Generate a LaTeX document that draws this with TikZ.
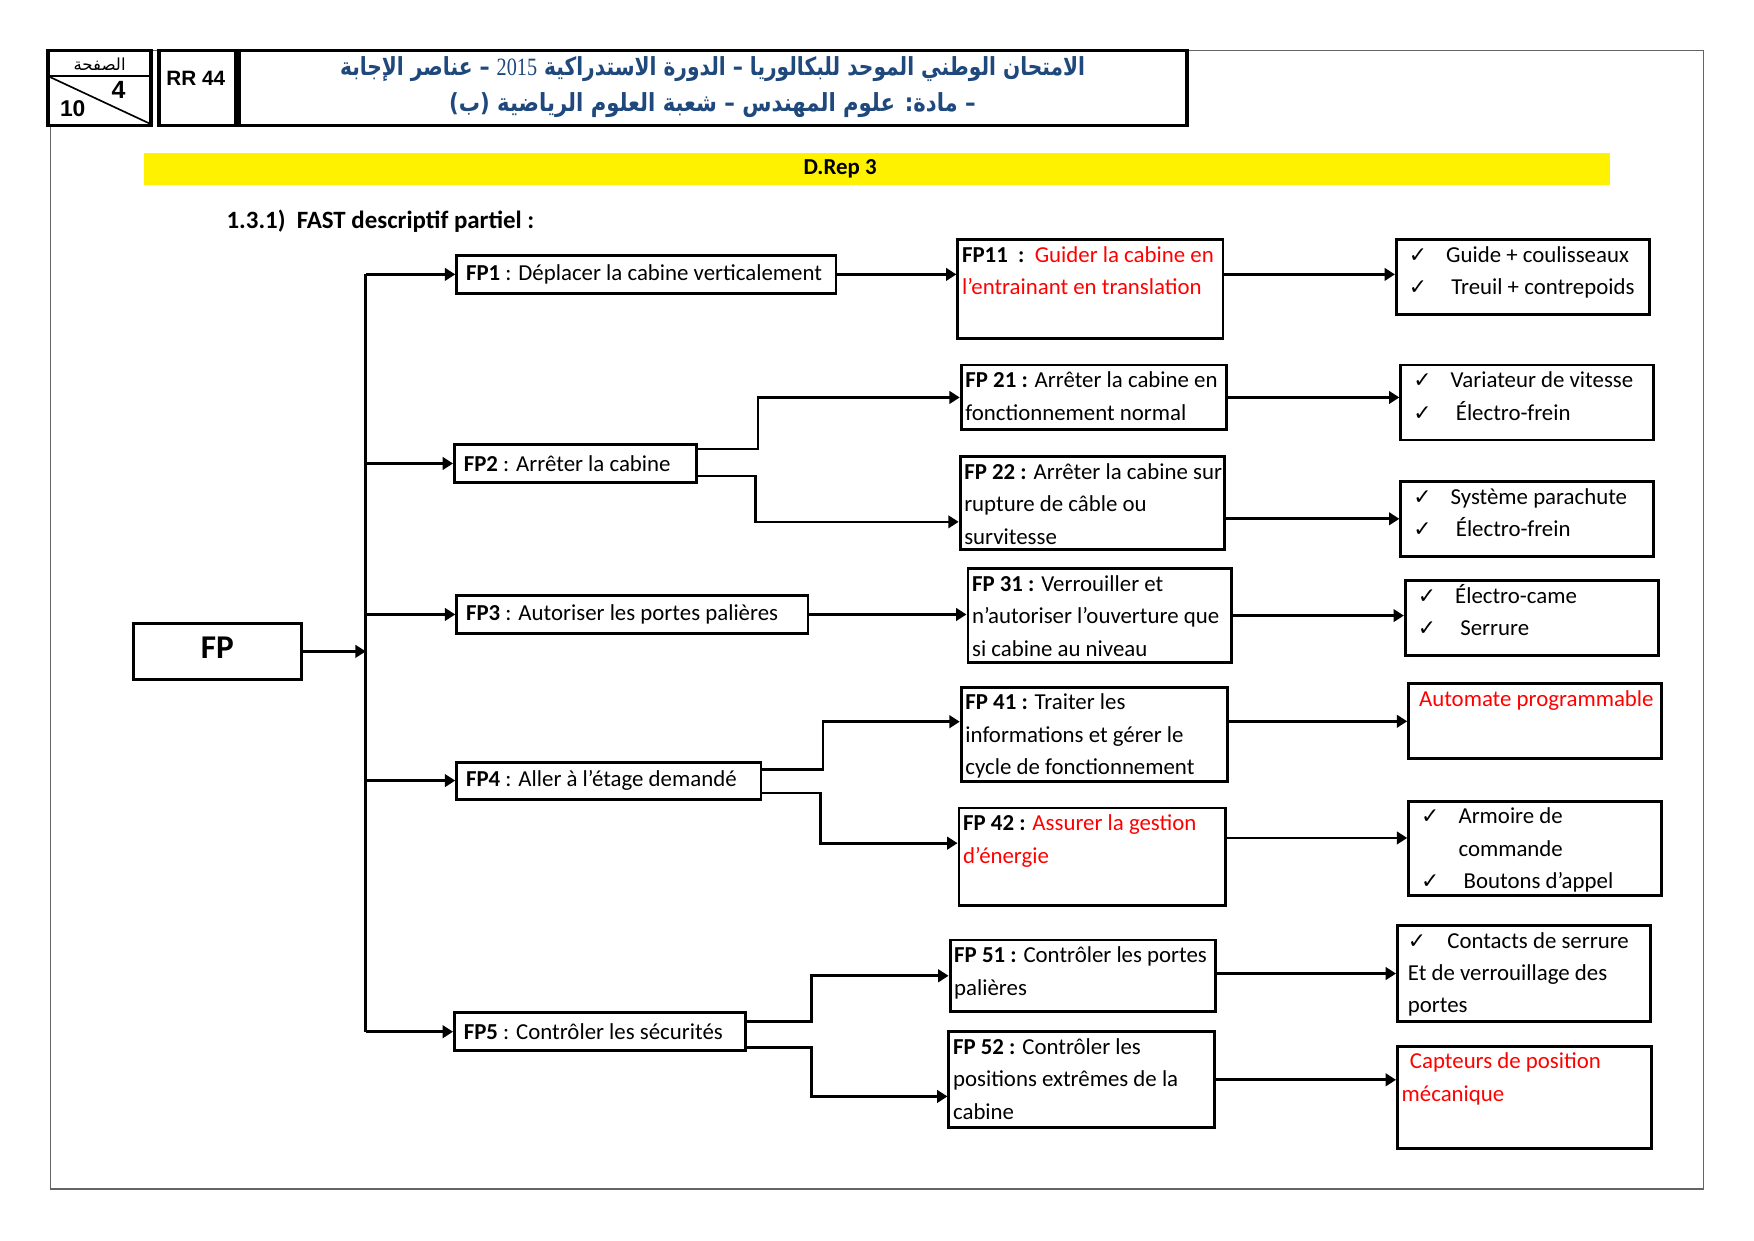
\documentclass[tikz,border=0pt]{standalone}
\usepackage{graphicx}
\usepackage{fontspec}
\setmainfont{Carlito}
\newfontfamily\arialfont{Liberation Sans}
\newfontfamily\numfont{Liberation Serif}
\newfontfamily\arabicfont[Script=Arabic]{DejaVu Sans}
\newfontfamily\symbfont{DejaVu Sans}
\TeXXeTstate=1
\usetikzlibrary{arrows.meta,positioning,calc}

\definecolor{entete}{RGB}{31,73,125}
\definecolor{cadre}{RGB}{100,100,100}

% 1 unite = 1 px de la page reduite (1568 x 1109)
\newdimen\un \un=0.018941cm
\def\ck{\hspace*{4pt}\makebox[18pt][l]{\symbfont\fontsize{10.5}{10}\selectfont ✓}}
\def\toptxt#1#2#3{\parbox[c][#2\un][t]{#1\un}{\raggedright\leftskip=2pt\strut #3}}
\def\midtxt#1#2#3{\parbox[c][#2\un][c]{#1\un}{\raggedright\leftskip=4.5pt #3}}

\begin{document}
\begin{tikzpicture}[
  x=0.018941cm, y=-0.018941cm,
  >={Triangle[length=5pt,width=6pt]},
  fpbox/.style={draw, line width=1.4pt, inner sep=0pt, anchor=north west, font=\fontsize{11}{15.6}\selectfont},
  headbox/.style={draw, line width=1.6pt, fill=white},
  arr/.style={->, line width=1.3pt},
  link/.style={line width=1.3pt}
]
\useasboundingbox (0,0) rectangle (1568,1109);

% cadre de la page
\draw[cadre, line width=0.6pt] (45,45) rectangle (1523,1063);

% en-tete
\draw[headbox] (43,45) rectangle (135,112);
\draw[line width=1.2pt] (43,68) -- (135,68);
\draw[line width=0.8pt] (45,69) -- (135,111);
\node (page) at (89,57) {\arabicfont\fontsize{8}{9}\selectfont\beginR الصفحة\endR};
\node (num) at (106,80) {\arialfont\bfseries\fontsize{12}{14}\selectfont 4};
\node (tot) at (65,97) {\arialfont\bfseries\fontsize{11}{13}\selectfont 10};

\draw[headbox] (142,45) rectangle (211,112);
\node (code) at (175,70) {\arialfont\bfseries\fontsize{10}{12}\selectfont RR 44};

\draw[headbox] (214,45) rectangle (1061,112);
\node[text=entete] (titre1) at (637,62) {\scalebox{0.81}[1]{\arabicfont\bfseries\fontsize{12}{14}\selectfont\beginR الامتحان الوطني الموحد للبكالوريا – الدورة الاستدراكية \beginL{\numfont\mdseries 2015}\endL{} – عناصر الإجابة\endR}};
\node[text=entete] (titre2) at (637,94) {\scalebox{0.85}[1]{\arabicfont\bfseries\fontsize{12}{14}\selectfont\beginR – مادة: علوم المهندس – شعبة العلوم الرياضية (ب)\endR}};

% bandeau jaune
\fill[yellow] (129,137) rectangle (1439,165);
\node (drep) at (751,151) {\fontsize{11}{13}\selectfont\bfseries D.Rep 3};
\node[anchor=west] (question) at (196,198) {\fontsize{12}{14}\selectfont\bfseries 1.3.1)\ \ FAST descriptif partiel :};

% fonction principale et fonctions de service
\node[fpbox] (fp) at (118,556) {\parbox[c][50\un][c]{150\un}{\centering\fontsize{16}{18}\selectfont\bfseries FP\vspace{4pt}}};

\node[fpbox] (fp1) at (407,227) {\midtxt{339}{34}{\textbf{FP1} : Déplacer la cabine verticalement}};
\node[fpbox] (fp2) at (405,396) {\midtxt{216}{34}{\textbf{FP2} : Arrêter la cabine}};
\node[fpbox] (fp3) at (407,531) {\midtxt{314}{34}{\textbf{FP3} : Autoriser les portes palières}};
\node[fpbox] (fp4) at (407,680) {\midtxt{272}{33}{\textbf{FP4} : Aller à l’étage demandé}};
\node[fpbox] (fp5) at (405,904) {\midtxt{260}{34}{\textbf{FP5} : Contrôler les sécurités}};

% fonctions techniques
\node[fpbox] (fp11) at (855,213) {\toptxt{237}{88}{\textbf{FP11\ \ :}\ \ \textcolor{red}{Guider la cabine en}\\\textcolor{red}{l’entrainant en translation}}};
\node[fpbox] (fp21) at (858,325) {\toptxt{237}{58}{\textbf{FP 21 :} Arrêter la cabine en\\fonctionnement normal}};
\node[fpbox] (fp22) at (857,407) {\toptxt{236}{83}{\textbf{FP 22 :} Arrêter la cabine sur\\rupture de câble ou\\survitesse}};
\node[fpbox] (fp31) at (864,507) {\toptxt{236}{84}{\textbf{FP 31 :} Verrouiller et\\n’autoriser l’ouverture que\\si cabine au niveau}};
\node[fpbox] (fp41) at (858,613) {\toptxt{238}{84}{\textbf{FP 41 :} Traiter les\\informations et gérer le\\cycle de fonctionnement}};
\node[fpbox] (fp42) at (856,721) {\toptxt{238}{87}{\textbf{FP 42 :} \textcolor{red}{Assurer la gestion}\\\textcolor{red}{d’énergie}}};
\node[fpbox] (fp51) at (848,839) {\toptxt{237}{64}{\textbf{FP 51 :} Contrôler les portes\\palières}};
\node[fpbox] (fp52) at (847,921) {\toptxt{237}{86}{\textbf{FP 52 :} Contrôler les\\positions extrêmes de la\\cabine}};

% solutions technologiques
\node[fpbox] (sol11) at (1247,213) {\toptxt{226}{67}{\ck Guide + coulisseaux\\\ck\ Treuil + contrepoids}};
\node[fpbox] (sol21) at (1251,325) {\toptxt{226}{67}{\ck Variateur de vitesse\\\ck\ Électro-frein}};
\node[fpbox] (sol22) at (1251,429) {\toptxt{226}{67}{\ck Système parachute\\\ck\ Électro-frein}};
\node[fpbox] (sol31) at (1255,518) {\toptxt{226}{67}{\ck Électro-came\\\ck\ Serrure}};
\node[fpbox] (sol41) at (1258,610) {\toptxt{226}{67}{\hspace*{3pt}\textcolor{red}{Automate programmable}}};
\node[fpbox] (sol42) at (1258,715) {\toptxt{226}{84}{\ck Armoire de\\\hspace*{22pt}commande\\\ck\ Boutons d’appel}};
\node[fpbox] (sol51) at (1248,826) {\toptxt{226}{86}{\hspace*{3pt}\makebox[19pt][l]{\symbfont\fontsize{10.5}{10}\selectfont ✓}Contacts de serrure\\\hspace*{3pt}Et de verrouillage des\\\hspace*{3pt}portes}};
\node[fpbox] (sol52) at (1248,934) {\toptxt{227}{91}{\hspace*{4pt}\textcolor{red}{Capteurs de position}\\\textcolor{red}{mécanique}}};

% liaisons
\coordinate (bus) at (327,0);
\draw[link] (fp1.west -| bus) -- (fp5.west -| bus);
\draw[arr] (fp.east) -- (fp.east -| bus);
\foreach \n in {fp1,fp2,fp3,fp4,fp5}
  \draw[arr] (\n.west -| bus) -- (\n.west);

\draw[arr] (fp1.east) -- (fp1.east -| fp11.west);
\draw[arr] ([yshift=7pt]fp2.east) -- ++(54,0) |- (fp21.west);
\draw[arr] ([yshift=-6pt]fp2.east) -- ++(52,0) |- ([yshift=-9pt]fp22.west);
\draw[arr] (fp3.east) -- (fp3.east -| fp31.west);
\draw[arr] ([yshift=5.5pt]fp4.east) -- ++(54,0) |- ([yshift=6pt]fp41.west);
\draw[arr] ([yshift=-6pt]fp4.east) -- ++(52,0) |- ([yshift=6.5pt]fp42.west);
\draw[arr] ([yshift=5pt]fp5.east) -- ++(58,0) |- (fp51.west);
\draw[arr] ([yshift=-7.5pt]fp5.east) -- ++(58,0) |- ([yshift=-8pt]fp52.west);

\draw[arr] (fp1.east -| fp11.east) -- (fp1.east -| sol11.west);
\draw[arr] (fp21.east) -- (fp21.east -| sol21.west);
\draw[arr] (sol22.west -| fp22.east) -- (sol22.west);
\draw[arr] (fp31.east) -- (fp31.east -| sol31.west);
\draw[arr] (sol41.west -| fp41.east) -- (sol41.west);
\draw[arr] ([yshift=9pt]fp42.east) -- ([yshift=9pt]fp42.east -| sol42.west);
\draw[arr] (sol51.west -| fp51.east) -- (sol51.west);
\draw[arr] (fp52.east) -- (fp52.east -| sol52.west);

\end{tikzpicture}
\end{document}
